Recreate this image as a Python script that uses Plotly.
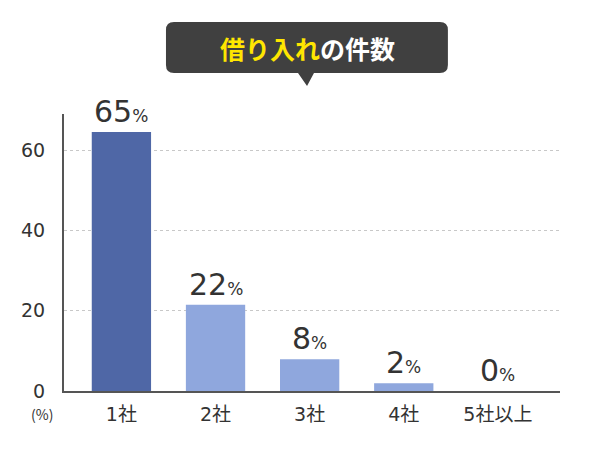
import plotly.graph_objects as go

categories = ["1社", "2社", "3社", "4社", "5社以上"]
shares = [64.5, 21.5, 7.9, 1.9, 0.0]
share_labels = ["65", "22", "8", "2", "0"]
bar_colors = ["#4f67a6", "#8fa7dd", "#8fa7dd", "#8fa7dd", "#8fa7dd"]
y_ticks = [0, 20, 40, 60]

FONT = "DejaVu Sans, Noto Sans CJK JP"
JP = "Noto Sans CJK JP"
TEXT = "#333333"

fig = go.Figure(go.Bar(
    x=categories,
    y=shares,
    width=0.63,
    marker=dict(color=bar_colors, line=dict(width=0)),
    hoverinfo="skip",
))

# value labels above bars
for c, v, lab in zip(categories, shares, share_labels):
    fig.add_annotation(
        x=c, y=v, xref="x", yref="y",
        text=f"{lab}<span style='font-size:17px'>%</span>",
        showarrow=False, yanchor="bottom", yshift=1,
        font=dict(family=FONT, size=30, color=TEXT),
    )

# speech-bubble title
x0, x1, y0, y1 = 0.2056, 0.774, 1.148, 1.332
rx, ry = 0.0161, 0.0289
bubble = (f"M {x0+rx},{y0} L 0.4718,{y0} L 0.49,1.101 L 0.504,{y0} L {x1-rx},{y0} "
          f"Q {x1},{y0} {x1},{y0+ry} L {x1},{y1-ry} Q {x1},{y1} {x1-rx},{y1} "
          f"L {x0+rx},{y1} Q {x0},{y1} {x0},{y1-ry} L {x0},{y0+ry} Q {x0},{y0} {x0+rx},{y0} Z")
fig.add_shape(type="path", path=bubble, xref="paper", yref="paper",
              fillcolor="#404040", line=dict(width=0), layer="above")
fig.add_annotation(
    x=0.49, y=(y0 + y1) / 2, xref="paper", yref="paper",
    text="<b><span style='color:#ffe600'>借り入れ</span>の件数</b>",
    showarrow=False, xanchor="center", yanchor="middle",
    font=dict(family=JP, size=25, color="white"),
)

fig.add_annotation(
    x=-0.045, y=-0.083, xref="paper", yref="paper",
    text="(%)", showarrow=False, xanchor="center", yanchor="middle",
    font=dict(family=JP, size=14, color=TEXT),
)

fig.update_layout(
    width=592, height=442,
    margin=dict(l=56, r=40, t=106, b=59),
    paper_bgcolor="white", plot_bgcolor="white",
    showlegend=False,
    font=dict(family=FONT, color=TEXT),
)
fig.update_xaxes(
    range=[-0.61, 4.66],
    showline=True, linecolor="#555555", linewidth=2,
    showgrid=False, ticks="",
    tickfont=dict(family=FONT, size=19, color=TEXT),
    ticklabelstandoff=5,
)
fig.update_yaxes(
    range=[0, 69],
    tickvals=y_ticks,
    showline=True, linecolor="#555555", linewidth=2,
    showgrid=True, gridcolor="#c8c8c8", griddash="dot", gridwidth=1,
    zeroline=False, ticks="",
    tickfont=dict(family=FONT, size=19, color=TEXT),
    ticklabelstandoff=13,
)

fig.write_html("out.html")
